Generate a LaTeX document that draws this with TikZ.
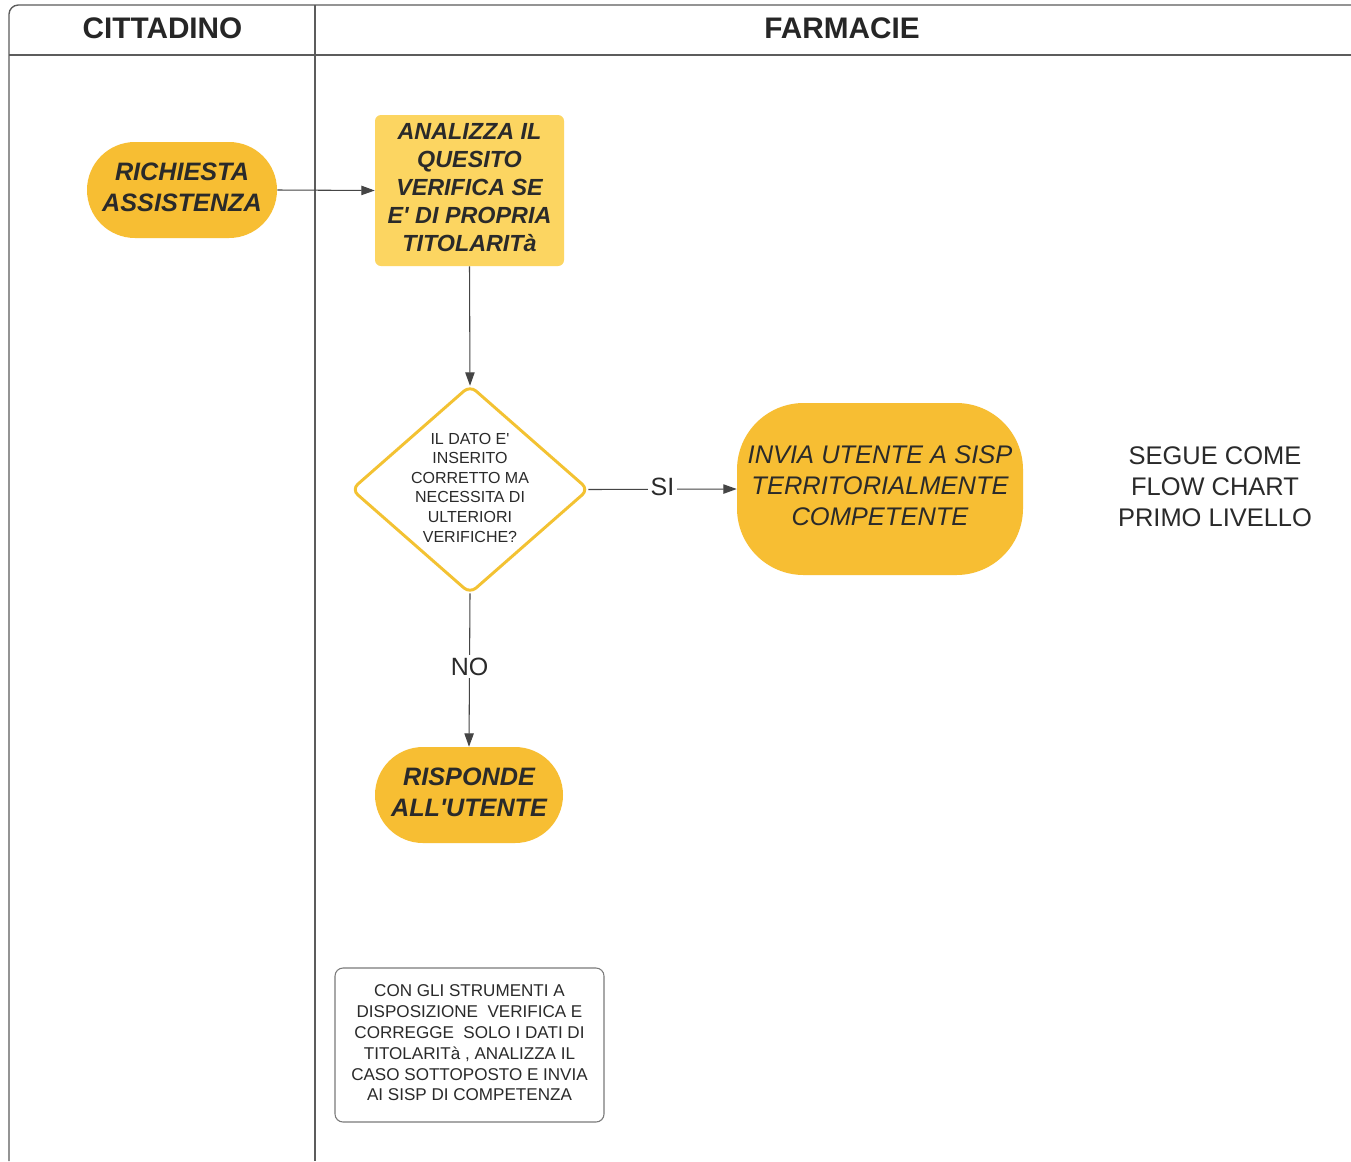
\documentclass[tikz,border=0pt]{standalone}
\usepackage{fontspec}
\setmainfont{Liberation Sans}
\usetikzlibrary{arrows.meta}
\definecolor{orng}{HTML}{F7BE33}
\definecolor{lyel}{HTML}{FCD561}
\definecolor{dborder}{HTML}{F3C232}
\definecolor{txt}{HTML}{2A2A2A}
\definecolor{framec}{HTML}{5C5C5C}
\definecolor{linec}{HTML}{454545}
\definecolor{notec}{HTML}{7A7A7A}
\newcommand\hdrfont{\fontsize{22.3pt}{26pt}\selectfont\bfseries}
\newcommand\bifont{\fontsize{18.9pt}{23.25pt}\selectfont\bfseries\itshape}
\newcommand\anafont{\fontsize{17.5pt}{21pt}\selectfont\bfseries\itshape}
\newcommand\decfont{\fontsize{12pt}{14.7pt}\selectfont}
\newcommand\invfont{\fontsize{19.1pt}{23.25pt}\selectfont\itshape}
\newcommand\segfont{\fontsize{19.1pt}{23.25pt}\selectfont}
\newcommand\lblfont{\fontsize{18.75pt}{22pt}\selectfont}
\newcommand\notefont{\fontsize{12.8pt}{15.6pt}\selectfont}
\newcommand\ap{\textquotesingle}
\begin{document}
\begin{tikzpicture}[x=0.75pt,y=-0.75pt,
  every node/.style={inner sep=0pt, text=txt, align=center},
  stadium/.style={fill=orng, minimum width=142.5pt, minimum height=72pt, rounded corners=36pt, font=\bifont, text depth=4.5pt},
  anabox/.style={fill=lyel, minimum width=141.75pt, minimum height=113.25pt, rounded corners=4.5pt, font=\anafont, text depth=5pt},
  arr/.style={draw=linec, line width=0.8pt, -{Triangle[length=10pt,width=7pt]}},
  lbl/.style={fill=white, inner sep=2pt, font=\lblfont, text=txt},
  framel/.style={draw=framec, line width=1pt}]
\useasboundingbox (0,0) rectangle (1351,1161);
\fill[white] (0,0) rectangle (1351,1161);
% lanes frame
\draw[framel, rounded corners=7pt] (9,1161) -- (9,5) -- (1351,5);
\draw[framel] (9,55) -- (1351,55);
\draw[framel] (315,5) -- (315,1161);
\node[text=black!85, font=\hdrfont] (h1) at (162.5,28) {CITTADINO};
\node[text=black!85, font=\hdrfont] (h2) at (842,28) {FARMACIE};
% nodes
\node[stadium] (start) at (182,190) {RICHIESTA\\ASSISTENZA};
\node[anabox] (ana) at (469.5,190.5) {ANALIZZA IL\\QUESITO\\VERIFICA SE\\E\ap{} DI PROPRIA\\TITOLARITà};
\node[minimum width=177pt, minimum height=155.25pt, font=\decfont, text depth=3pt] (dec) at (470,489.5) {IL DATO E\ap\\INSERITO\\CORRETTO MA\\NECESSITA DI\\ULTERIORI\\VERIFICHE?};
\draw[draw=dborder, line width=2.2pt, rounded corners=6pt] (dec.north) -- (dec.east) -- (dec.south) -- (dec.west) -- cycle;
\node[fill=orng, minimum width=214.5pt, minimum height=129pt, rounded corners=50pt, font=\invfont, text depth=4.5pt] (inv) at (880,489) {INVIA UTENTE A SISP\\TERRITORIALMENTE\\COMPETENTE};
\node[font=\segfont] (seg) at (1215,487) {SEGUE COME\\FLOW CHART\\PRIMO LIVELLO};
\node[stadium, minimum width=141pt] (resp) at (469,795) {RISPONDE\\ALL\ap{}UTENTE};
\node[draw=notec, line width=0.8pt, rounded corners=6pt, minimum width=201.75pt, minimum height=115.5pt, font=\notefont, text depth=3pt] (note) at (469.5,1045) {CON GLI STRUMENTI A\\DISPOSIZIONE~ VERIFICA E\\CORREGGE~ SOLO I DATI DI\\TITOLARITà , ANALIZZA IL\\CASO SOTTOPOSTO E INVIA\\AI SISP DI COMPETENZA};
% connectors
\draw[arr] (start.east) -- (ana.west);
\draw[arr] (ana.south) -- (dec.north);
\draw[arr] (dec.east) -- node[lbl, pos=0.5, yshift=1.5pt] (si) {SI} (inv.west);
\draw[arr] (dec.south) -- node[lbl, pos=0.48] (no) {NO} (resp.north);
\end{tikzpicture}
\end{document}
